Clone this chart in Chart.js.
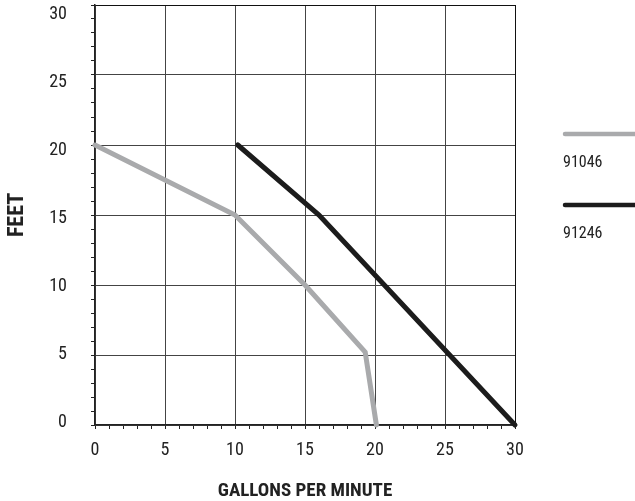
<!DOCTYPE html>
<html>
<head>
<meta charset="utf-8">
<script src="https://cdn.jsdelivr.net/npm/chart.js@4"></script>
<style>
  body { margin: 0; background: #fff; }
  #wrap { width: 635px; height: 501px; }
</style>
</head>
<body>
<div id="wrap"><canvas id="myChart" width="635" height="501"></canvas></div>
<script>
// data
const seriesNames = ['91046', '91246'];
const gpm91046 = [0, 10, 15, 19.3, 20.1];
const feet91046 = [20, 15, 10, 5.2, 0];
const gpm91246 = [10.2, 16, 30];
const feet91246 = [20, 15, 0];
const xTicks = [0, 5, 10, 15, 20, 25, 30];
const yTicks = [0, 5, 10, 15, 20, 25, 30];
const minorTicks = Array.from({length: 31}, (_, i) => i);

const gray = '#a9aaac';
const black = '#1c1c1c';
const ink = '#222';
const narrow = "'Liberation Sans Narrow', 'Roboto Condensed', 'DejaVu Sans Condensed', sans-serif";

Chart.defaults.font.family = narrow;
Chart.defaults.color = ink;

function gridColor(ctx) {
  const v = ctx.tick.value;
  if (v % 5 !== 0) return 'rgba(0,0,0,0)';
  if (v === 30) return '#111';
  return '#444';
}

function toPoints(xs, ys) {
  return xs.map((x, i) => ({x: x, y: ys[i]}));
}

// legend drawn as line above name, to the right of the plot
const sideLegend = {
  id: 'sideLegend',
  afterDraw(chart) {
    const c = chart.ctx;
    c.save();
    chart.data.datasets.forEach((ds, i) => {
      const y = 134 + i * 71;
      c.strokeStyle = ds.borderColor;
      c.lineWidth = 4.5;
      c.lineCap = 'round';
      c.beginPath();
      c.moveTo(565, y);
      c.lineTo(645, y);
      c.stroke();
      c.fillStyle = ink;
      c.font = '16px ' + narrow;
      c.textBaseline = 'middle';
      c.textAlign = 'left';
      c.fillText(ds.label, 563, y + 29);
    });
    c.restore();
  }
};

const ctx = document.getElementById('myChart').getContext('2d');
const chart = new Chart(ctx, {
  type: 'line',
  data: {
    datasets: [
      {
        label: seriesNames[0],
        data: toPoints(gpm91046, feet91046),
        borderColor: gray,
        backgroundColor: gray,
        borderWidth: 5,
        pointRadius: 0,
        tension: 0,
        clip: false,
        borderCapStyle: 'round'
      },
      {
        label: seriesNames[1],
        data: toPoints(gpm91246, feet91246),
        borderColor: black,
        backgroundColor: black,
        borderWidth: 5,
        pointRadius: 0,
        tension: 0,
        clip: false,
        borderCapStyle: 'round'
      }
    ]
  },
  options: {
    responsive: false,
    animation: false,
    devicePixelRatio: 1,
    layout: { padding: { top: 5, right: 120, bottom: 0, left: 0 } },
    plugins: {
      legend: { display: false },
      tooltip: { enabled: false }
    },
    scales: {
      x: {
        type: 'linear',
        min: 0,
        max: 30,
        afterBuildTicks(scale) { scale.ticks = minorTicks.map(v => ({value: v})); },
        afterFit(scale) { scale.height = 76; },
        grid: { color: gridColor, tickColor: ink, tickLength: 4, lineWidth: 1 },
        border: { display: true, color: ink, width: 1.5 },
        ticks: {
          autoSkip: false,
          maxRotation: 0,
          minRotation: 0,
          padding: 11,
          font: { size: 18 },
          callback: (v) => xTicks.includes(v) ? String(v) : ''
        },
        title: {
          display: true,
          text: 'GALLONS PER MINUTE',
          font: { size: 19, weight: 'bold' },
          padding: { top: 0, bottom: -2 }
        }
      },
      y: {
        type: 'linear',
        position: 'left',
        weight: 0,
        min: 0,
        max: 30,
        afterBuildTicks(scale) { scale.ticks = minorTicks.map(v => ({value: v})); },
        afterFit(scale) { scale.width = 0; scale.paddingTop = 0; scale.paddingBottom = 0; },
        grid: { color: gridColor, tickColor: ink, tickLength: 4, lineWidth: 1 },
        border: { display: true, color: ink, width: 1.5 },
        ticks: { display: false, autoSkip: false }
      },
      // labels only, spaced as in the picture
      yLabels: {
        type: 'linear',
        position: 'left',
        weight: 1,
        min: -0.22,
        max: 30.7,
        afterBuildTicks(scale) { scale.ticks = yTicks.map(v => ({value: v})); },
        afterFit(scale) { scale.width = 95; scale.paddingTop = 0; scale.paddingBottom = 0; },
        grid: { display: false, drawTicks: false },
        border: { display: false },
        ticks: { padding: 28, font: { size: 18 }, autoSkip: false },
        title: {
          display: true,
          text: 'FEET',
          font: { size: 22, weight: 'bold' },
          padding: { top: 4, bottom: 0 }
        }
      }
    }
  },
  plugins: [sideLegend]
});
</script>
</body>
</html>
